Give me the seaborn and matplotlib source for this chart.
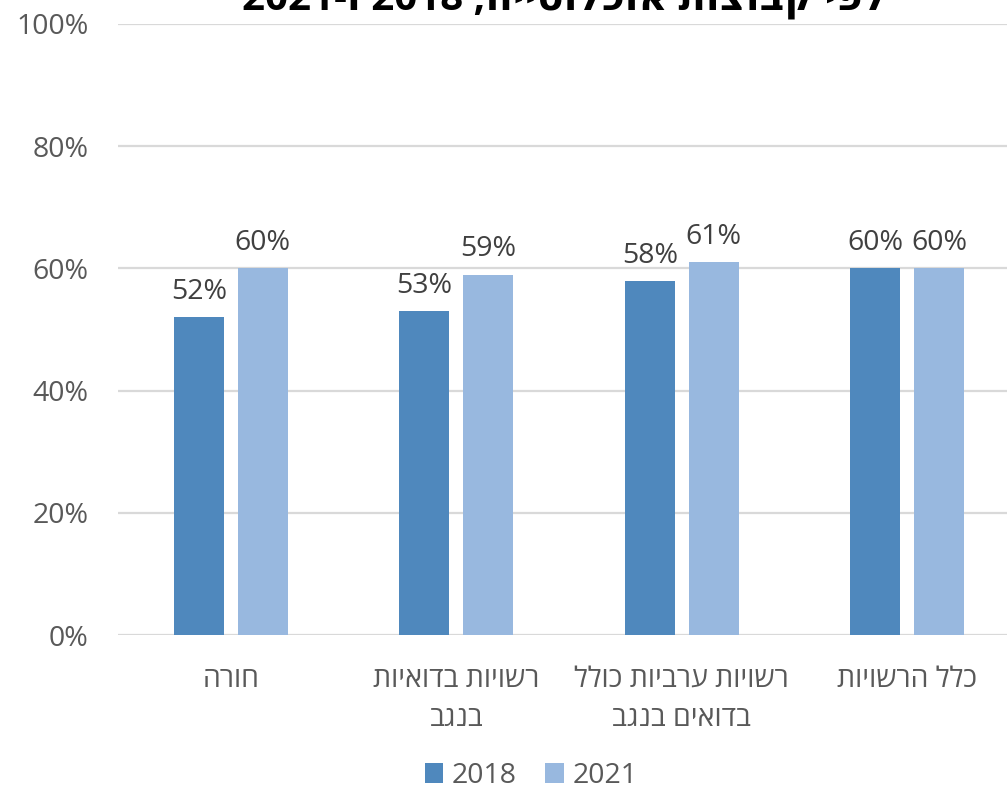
import re
import matplotlib
matplotlib.use("Agg")
import matplotlib.pyplot as plt
from matplotlib.patches import Patch
import pandas as pd
import seaborn as sns

# ---- data ----
categories = ["חורה", "רשויות בדואיות\nבנגב", "רשויות ערביות כולל\nבדואים בנגב", "כלל הרשויות"]
years = ["2018", "2021"]
values_2018 = [52, 53, 58, 60]
values_2021 = [60, 59, 61, 60]
y_ticks = [0, 20, 40, 60, 80, 100]
title_text = "לפי קבוצות אוכלוסייה, 2018 ו-2021"

colors = {"2018": "#4f88bd", "2021": "#98b8df"}


def visual(s):
    """Right-to-left display order for Hebrew text (digit runs keep their order)."""
    out = []
    for line in s.split("\n"):
        r = line[::-1]
        r = re.sub(r"\d+", lambda m: m.group(0)[::-1], r)
        out.append(r)
    return "\n".join(out)


df = pd.DataFrame({
    "category": categories * 2,
    "year": [years[0]] * len(categories) + [years[1]] * len(categories),
    "value": values_2018 + values_2021,
})

sns.set_theme(style="white")
plt.rcParams["font.family"] = ["Open Sans", "DejaVu Sans"]

FS = 20.5

fig = plt.figure(figsize=(10.07, 7.89), dpi=100)
ax = fig.add_axes([118 / 1007, 154 / 789, 902 / 1007, 611 / 789])

sns.barplot(
    data=df, x="category", y="value", hue="year",
    order=categories, hue_order=years, palette=colors,
    width=0.568, gap=0.22, saturation=1, linewidth=0,
    legend=False, ax=ax, zorder=3,
)

ax.set_ylim(0, 100)
ax.set_xlim(-0.5, len(categories) - 0.5)
ax.set_yticks(y_ticks)
ax.set_yticklabels([f"{t}%" for t in y_ticks])
ax.yaxis.grid(True, color="#d9d9d9", linewidth=1.6, zorder=0)
ax.xaxis.grid(False)
for sp in ax.spines.values():
    sp.set_visible(False)

ax.set_xticks(range(len(categories)))
ax.set_xticklabels([visual(c) for c in categories], linespacing=1.55)
ax.tick_params(axis="x", length=0, pad=22, labelsize=FS, labelcolor="#595959")
ax.tick_params(axis="y", length=0, pad=21, labelsize=FS, labelcolor="#595959")
ax.set_xlabel("")
ax.set_ylabel("")

for cont, vals in zip(ax.containers, [values_2018, values_2021]):
    ax.bar_label(cont, labels=[f"{v}%" for v in vals], padding=8,
                 fontsize=FS, color="#404040")

# title (sits partly above the top edge of the canvas)
fig.text(564 / 1007, 1 - 11 / 789, visual(title_text), ha="center", va="baseline",
         fontsize=29, fontweight="bold", color="#000000")

handles = [Patch(facecolor=colors[y], edgecolor="none") for y in years]
fig.legend(handles, years, loc="center", bbox_to_anchor=(531 / 1007, 1 - 776 / 789),
           ncol=2, frameon=False, fontsize=FS, handlelength=0.65, handleheight=0.65,
           handletextpad=0.3, columnspacing=1.0, labelcolor="#595959")

fig.savefig("out.png", dpi=100)
